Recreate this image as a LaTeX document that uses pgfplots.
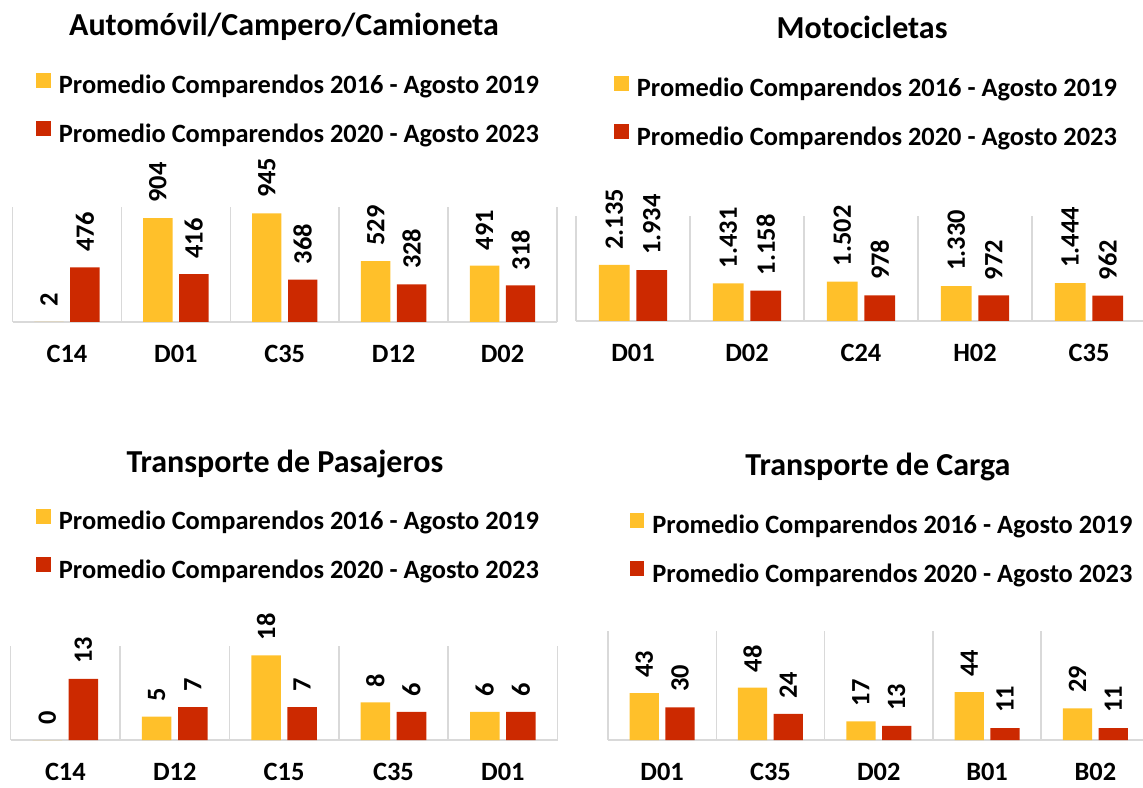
\documentclass[border=0pt]{standalone}
\usepackage{pgfplots}
\pgfplotsset{compat=1.18}
\usepackage{pgfplotstable}
\usepackage{fontspec}
\setmainfont{Carlito}
\definecolor{cyel}{RGB}{255,192,42}
\definecolor{cred}{RGB}{204,41,0}
\definecolor{cgrid}{RGB}{217,217,217}
\newcommand\lab{\fontsize{13.2}{15}\selectfont\bfseries}
\newcommand\ttl{\fontsize{16}{19}\selectfont\bfseries}

\pgfplotstableread{
x a b
0 2 476
1 904 416
2 945 368
3 529 328
4 491 318
}\autos
\pgfplotstableread{
x a b
0 2135 1934
1 1431 1158
2 1502 978
3 1330 972
4 1444 962
}\motos
\pgfplotstableread{
x a b
0 0 13
1 5 7
2 18 7
3 8 6
4 6 6
}\pasaj
\pgfplotstableread{
x a b
0 43 30
1 48 24
2 17 13
3 44 11
4 29 11
}\carga

\pgfplotsset{
  panel/.style={
    scale only axis, clip=false, anchor=south west,
    ybar, bar width=0.27, xmin=-0.5, xmax=4.5, ymin=0,
    axis x line*=bottom, axis y line=none, ytick=\empty,
    xtick={0,1,2,3,4}, major tick length=0pt, minor tick length=0pt,
    minor xtick={-0.5,0.5,1.5,2.5,3.5,4.5}, xminorgrids=true,
    minor grid style={draw=cgrid, line width=0.75pt},
    x axis line style={draw=cgrid, line width=0.75pt},
    xticklabel style={font=\lab, yshift=-8pt},
    nodes near coords,
    every node near coord/.append style={font=\lab, text=black, rotate=90, anchor=west, inner sep=0pt, xshift=7.5pt},
    /pgf/number format/assume math mode=true,
    /pgf/number format/1000 sep={.},
    legend cell align=left,
    legend style={draw=none, fill=none, inner sep=0pt, anchor=north west, font=\lab,
      row sep=12.3pt, column sep=4pt, nodes={inner sep=0pt}, yshift=1.4pt},
    legend image code/.code={\fill[##1, draw=none] (0pt,-0.8pt) rectangle (7.25pt,6.45pt);},
    title style={font=\ttl, anchor=base, yshift=-7pt},
  },
  sa/.style={fill=cyel, draw=none, bar shift=-0.165},
  sb/.style={fill=cred, draw=none, bar shift=0.165},
}

\begin{document}
\begin{tikzpicture}
\useasboundingbox (0,0) rectangle (571.5pt,393.5pt);

% Panel 1
\begin{axis}[panel, at={(6.25pt,232.5pt)}, width=272.25pt, height=57.5pt, ymax=1000,
  xticklabels={C14,D01,C35,D12,D02},
  title={Automóvil/Campero/Camioneta}, title style={at={(0.4986,2.510)}},
  legend style={at={(0.0432,2.143)}}]
\addplot[sa] table[x=x,y=a]{\autos};
\addplot[sb] table[x=x,y=b]{\autos};
\legend{Promedio Comparendos 2016 - Agosto 2019, Promedio Comparendos 2020 - Agosto 2023}
\end{axis}

% Panel 2
\begin{axis}[panel, at={(288pt,233pt)}, width=285pt, height=52.5pt, ymax=4000,
  xticklabels={D01,D02,C24,H02,C35},
  title={Motocicletas}, title style={at={(0.5018,2.708)}},
  legend style={at={(0.0667,2.309)}}]
\addplot[sa] table[x=x,y=a]{\motos};
\addplot[sb] table[x=x,y=b]{\motos};
\legend{Promedio Comparendos 2016 - Agosto 2019, Promedio Comparendos 2020 - Agosto 2023}
\end{axis}

% Panel 3
\begin{axis}[panel, at={(5.35pt,23.5pt)}, width=273.4pt, height=47pt, ymax=20,
  xticklabels={C14,D12,C15,C35,D01},
  title={Transporte de Pasajeros}, title style={at={(0.5016,2.872)}},
  legend style={at={(0.0463,2.430)}}]
\addplot[sa] table[x=x,y=a]{\pasaj};
\addplot[sb] table[x=x,y=b]{\pasaj};
\legend{Promedio Comparendos 2016 - Agosto 2019, Promedio Comparendos 2020 - Agosto 2023}
\end{axis}

% Panel 4
\begin{axis}[panel, at={(304pt,23.5pt)}, width=270.75pt, height=54.5pt, ymax=100,
  xticklabels={D01,C35,D02,B01,B02},
  title={Transporte de Carga}, title style={at={(0.4986,2.447)}},
  legend style={at={(0.0397,2.059)}}]
\addplot[sa] table[x=x,y=a]{\carga};
\addplot[sb] table[x=x,y=b]{\carga};
\legend{Promedio Comparendos 2016 - Agosto 2019, Promedio Comparendos 2020 - Agosto 2023}
\end{axis}
\end{tikzpicture}
\end{document}
